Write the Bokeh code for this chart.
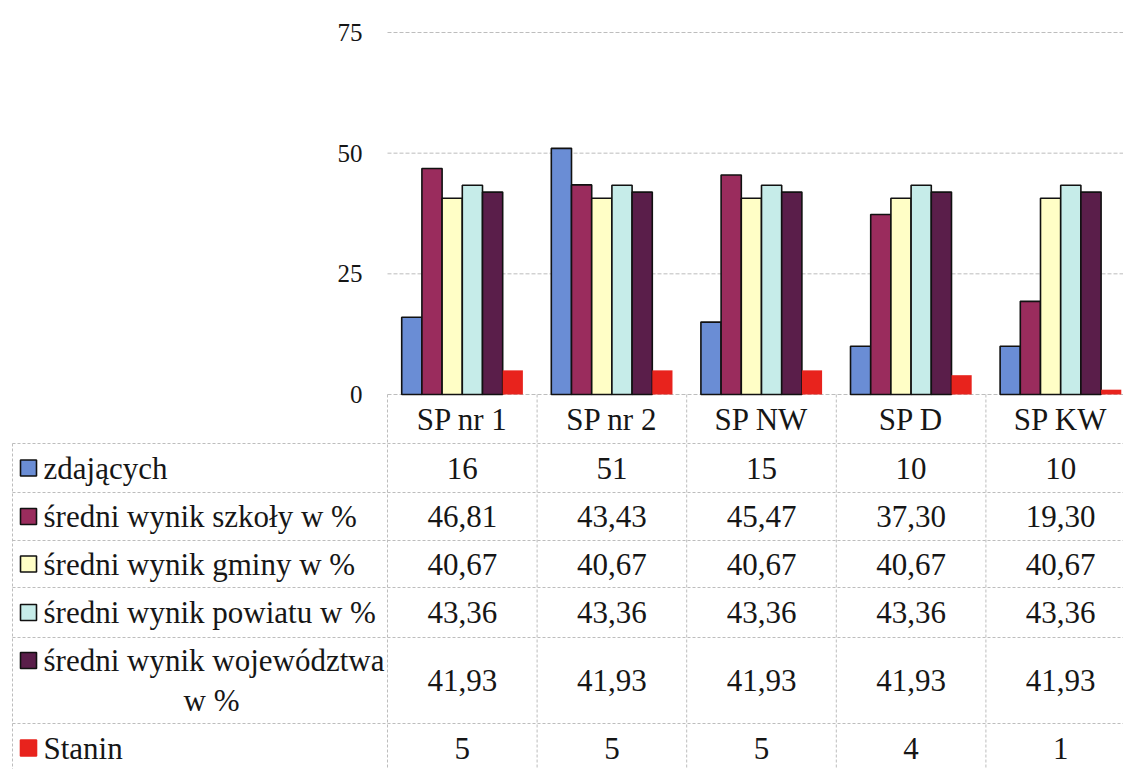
from bokeh.plotting import figure
from bokeh.models import Range1d, ColumnDataSource
from bokeh.core.properties import value
from bokeh.transform import dodge
from bokeh.embed import file_html
from bokeh.resources import INLINE

# ---------------- data ----------------
categories = ["SP nr 1", "SP nr 2", "SP NW", "SP D", "SP KW"]
series_names = ["zdających", "średni wynik szkoły w %", "średni wynik gminy w %",
                "średni wynik powiatu w %", "średni wynik województwa", "Stanin"]
zdajacych = [16, 51, 15, 10, 10]
sredni_szkoly = [46.81, 43.43, 45.47, 37.30, 19.30]
sredni_gminy = [40.67, 40.67, 40.67, 40.67, 40.67]
sredni_powiatu = [43.36, 43.36, 43.36, 43.36, 43.36]
sredni_wojewodztwa = [41.93, 41.93, 41.93, 41.93, 41.93]
stanin = [5, 5, 5, 4, 1]
y_ticks = [0, 25, 50, 75]

series = [zdajacych, sredni_szkoly, sredni_gminy, sredni_powiatu, sredni_wojewodztwa, stanin]
is_int = [True, False, False, False, False, True]
colors = ["#6a8dd5", "#9a2c5d", "#fffec6", "#c6ece9", "#5a1e4a", "#e8231d"]
outlines = ["#111111", "#111111", "#111111", "#111111", "#111111", None]

FONT = "Liberation Serif"
TXT = "#161616"
GRID = "#bdbdbd"

# ---------------- layout (pixel geometry of the page) ----------------
W, H = 1123, 769
COL_PX = 149.6          # width of one category column
PX0 = 387               # page x where the first category column starts
PY0 = 394               # page y of value 0
PY75 = 32               # page y of value 75
Y_PER = (PY0 - PY75) / (y_ticks[-1] - y_ticks[0])
BAR_W = 0.135

X = lambda p: -0.5 + (p - PX0) / COL_PX     # page x -> data x
Y = lambda p: (PY0 - p) / Y_PER              # page y -> data y

p = figure(width=W, height=H, x_range=Range1d(X(0), X(W)), y_range=Range1d(Y(H), Y(0)),
           output_backend="svg", toolbar_location=None,
           x_axis_location=None, y_axis_location=None,
           min_border_left=0, min_border_right=0, min_border_top=0, min_border_bottom=0)
p.outline_line_color = None
p.background_fill_color = "white"
p.border_fill_color = "white"
for g in p.grid:
    g.visible = False

x_end = X(W)
ncat = len(categories)

# value gridlines of the chart
p.segment(x0=[-0.5] * len(y_ticks), x1=[x_end] * len(y_ticks), y0=y_ticks, y1=y_ticks,
          line_color=GRID, line_dash="4 2", line_width=1)
# value tick labels
p.text(x=[-0.5] * len(y_ticks), y=y_ticks, text=[str(t) for t in y_ticks], x_offset=-25,
       text_align="right", text_baseline="middle",
       text_font=value(FONT), text_font_size="25px", text_color=TXT)

# bars
src = ColumnDataSource(dict(x=list(range(ncat)), **{f"s{i}": s for i, s in enumerate(series)}))
n = len(series)
for i in range(n):
    off = (i - (n - 1) / 2) * BAR_W
    p.vbar(x=dodge("x", off), top=f"s{i}", bottom=0, width=BAR_W, source=src,
           fill_color=colors[i], line_color=outlines[i], line_width=1.6)

# ---------------- data table ----------------
header_top, header_bot = 394, 443
row_heights = [49, 48, 47, 50, 86, 49]
bounds = [header_bot]
for h in row_heights:
    bounds.append(bounds[-1] + h)
centers = [(bounds[i] + bounds[i + 1]) / 2 for i in range(len(row_heights))]

# horizontal lines
hy = [Y(b) for b in bounds[:-1]]
p.segment(x0=[X(12)] * len(hy), x1=[x_end] * len(hy), y0=hy, y1=hy,
          line_color=GRID, line_dash="3 2", line_width=1)
# vertical lines
vx = [i - 0.5 for i in range(ncat + 1)]
p.segment(x0=vx, x1=vx, y0=[Y(header_top)] * len(vx), y1=[Y(H)] * len(vx),
          line_color=GRID, line_dash="3 2", line_width=1)
p.segment(x0=[X(12)], x1=[X(12)], y0=[Y(header_bot)], y1=[Y(H)],
          line_color=GRID, line_dash="3 2", line_width=1)

# header (category names)
p.text(x=list(range(ncat)), y=[Y((header_top + header_bot) / 2)] * ncat, text=categories,
       text_align="center", text_baseline="middle",
       text_font=value(FONT), text_font_size="31px", text_color=TXT)

# values
vx_, vy_, vt_ = [], [], []
for r, s in enumerate(series):
    for c, v in enumerate(s):
        vx_.append(c)
        vy_.append(Y(centers[r]))
        vt_.append(str(int(v)) if is_int[r] else f"{v:.2f}".replace(".", ","))
p.text(x=vx_, y=vy_, text=vt_, text_align="center", text_baseline="middle",
       text_font=value(FONT), text_font_size="31px", text_color=TXT)

# row labels + legend keys
label_py = list(centers)
label_py[4] = bounds[4] + 23
p.text(x=[X(43)] * n, y=[Y(v) for v in label_py], text=series_names,
       text_align="left", text_baseline="middle",
       text_font=value(FONT), text_font_size="31px", text_color=TXT)
p.text(x=[X(211)], y=[Y(bounds[4] + 63)], text=["w %"],
       text_align="center", text_baseline="middle",
       text_font=value(FONT), text_font_size="31px", text_color=TXT)
p.rect(x=[X(28)] * n, y=[Y(v) for v in label_py], width=16, height=16,
       width_units="screen", height_units="screen",
       fill_color=colors, line_color=[o if o else c for o, c in zip(outlines, colors)],
       line_width=1.6)

open("out.html", "w").write(file_html(p, INLINE))
